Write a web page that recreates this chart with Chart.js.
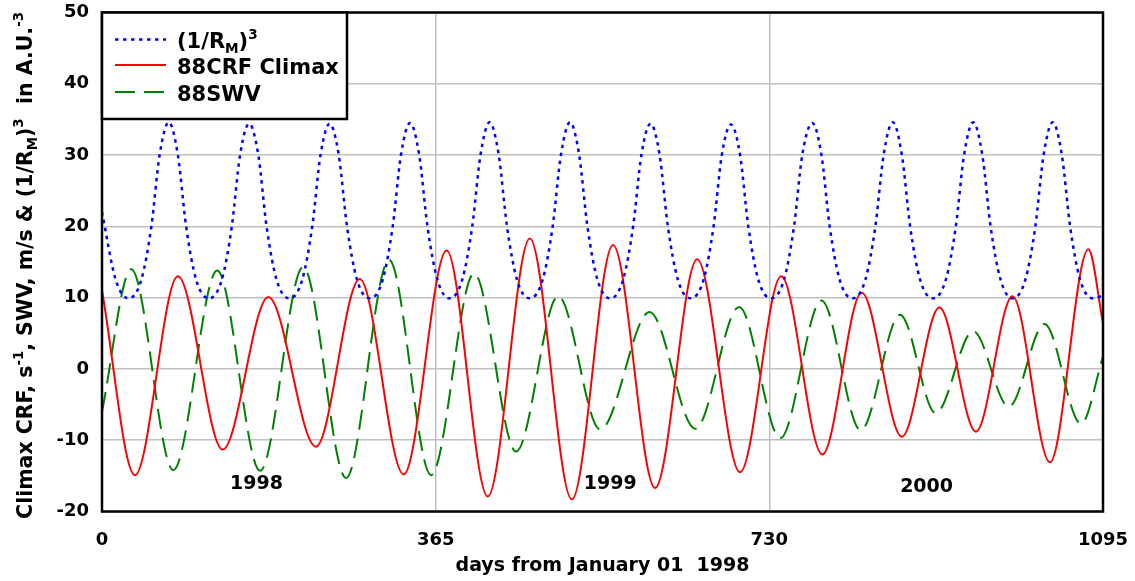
<!DOCTYPE html>
<html>
<head>
<meta charset="utf-8">
<script src="https://cdn.jsdelivr.net/npm/chart.js@4.4.1/dist/chart.umd.min.js"></script>
<style>
  html, body { margin: 0; padding: 0; background: #fff; }
</style>
</head>
<body>
<canvas id="chart" width="1135" height="581"></canvas>
<script>
// values (days from 1998-01-01)
const blueDays = [0,15,29,
  43,54,63,73,83,92,103,117,
  131,142,151,161,171,180,191,205,
  219,230,239,249,259,268,279,293,
  307,318,327,337,347,356,367,380,
  394,405,414,424,434,443,454,468,
  482,493,502,512,522,531,542,556,
  570,581,590,600,610,619,630,644,
  658,669,678,688,698,707,718,732,
  746,757,766,777,787,796,807,821,
  835,846,855,865,875,884,895,909,
  923,934,943,953,963,972,983,996,
  1010,1021,1030,1040,1050,1059,1070,1084,
  1095];
const blueVals = [22,12.5,9.9,
  12.5,20,30,34.6,30,20,12.5,9.9,
  12.5,20,30,34.4,30,20,12.5,9.9,
  12.5,20,30,34.4,30,20,12.5,9.9,
  12.5,20,30,34.5,30,20,12.5,9.9,
  12.5,20,30,34.6,30,20,12.5,9.9,
  12.5,20,30,34.6,30,20,12.5,9.9,
  12.5,20,30,34.4,30,20,12.5,9.9,
  12.5,20,30,34.3,30,20,12.5,9.9,
  12.5,20,30,34.5,30,20,12.5,9.9,
  12.5,20,30,34.6,30,20,12.5,9.9,
  12.5,20,30,34.6,30,20,12.5,9.9,
  12.5,20,30,34.6,30,20,12.5,9.9,
  10.3];

const redDays = [0,36,83,132,182,234,282,330,377,422,468,514,559,605,651,698,743,788,831,875,916,956,996,1037,1079,1095];
const redVals = [11,-14.9,13.0,-11.3,10.1,-10.9,12.6,-14.8,16.6,-17.9,18.3,-18.3,17.4,-16.7,15.4,-14.5,13.0,-12.0,10.7,-9.5,8.6,-8.8,10.2,-13.1,16.8,6.4];

const greenDays = [0,32,78,126,173,220,267,314,360,407,453,499,545,599,649,697,742,787,830,873,912,953,992,1031,1071,1095];
const greenVals = [-6,14.0,-14.2,13.8,-14.3,14.3,-15.3,15.3,-14.9,13.4,-11.6,10.2,-8.5,8.0,-8.4,8.7,-9.7,9.6,-8.6,7.6,-6.2,5.3,-5.3,6.3,-7.7,1.7];

const xTickVals = [0, 365, 730, 1095];
const yearLabels = ['1998', '1999', '2000'];
const yearDays = [169, 556, 902];
const yearVals = [-16.2, -16.2, -16.6];

const FONT = '"DejaVu Sans", Arial, sans-serif';

// rich text pieces: [text, 'sup'|'sub'|undefined]
const legendParts = [
  [['(1/R'], ['M', 'sub'], [')'], ['3', 'sup']],
  [['88CRF Climax']],
  [['88SWV']]
];
const yTitleParts = [['Climax CRF, s'], ['-1', 'sup'], [', SWV, m/s & (1/R'], ['M', 'sub'], [')'], ['3', 'sup'], ['  in A.U.'], ['-3', 'sup']];

function pts(xs, ys){ return xs.map((x, i) => ({ x: x, y: ys[i] })); }

function richWidth(ctx, parts, size){
  let w = 0;
  parts.forEach(p => {
    ctx.font = 'bold ' + (p[1] ? size * 0.65 : size) + 'px ' + FONT;
    w += ctx.measureText(p[0]).width;
  });
  return w;
}
function drawRich(ctx, parts, x, y, size){
  parts.forEach(p => {
    const s = p[1] ? size * 0.65 : size;
    ctx.font = 'bold ' + s + 'px ' + FONT;
    const dy = p[1] === 'sup' ? -size * 0.42 : (p[1] === 'sub' ? size * 0.22 : 0);
    ctx.fillText(p[0], x, y + dy);
    x += ctx.measureText(p[0]).width;
  });
}

const decor = {
  id: 'decor',
  afterDatasetsDraw(chart){
    const ctx = chart.ctx, a = chart.chartArea;
    const xs = chart.scales.x, ys = chart.scales.y;
    ctx.save();
    ctx.fillStyle = '#000';
    ctx.font = 'bold 19px ' + FONT;
    ctx.textAlign = 'center';
    ctx.textBaseline = 'middle';
    yearLabels.forEach((t, i) => ctx.fillText(t, xs.getPixelForValue(yearDays[i]), ys.getPixelForValue(yearVals[i])));

    // frame
    ctx.lineWidth = 2.5;
    ctx.strokeStyle = '#000';
    ctx.strokeRect(a.left, a.top, a.right - a.left, a.bottom - a.top);

    // legend box
    const lx = a.left, ly = a.top, lw = 245, lh = 106.5;
    ctx.fillStyle = '#fff';
    ctx.fillRect(lx, ly, lw, lh);
    ctx.strokeRect(lx, ly, lw, lh);
    const rows = [39.5, 65, 92];
    chart.data.datasets.forEach((ds, i) => {
      ctx.save();
      ctx.strokeStyle = ds.borderColor;
      ctx.lineWidth = ds.borderWidth;
      ctx.setLineDash(ds.borderDash || []);
      ctx.beginPath();
      ctx.moveTo(115, rows[i]);
      ctx.lineTo(166, rows[i]);
      ctx.stroke();
      ctx.restore();
      ctx.fillStyle = '#000';
      ctx.textAlign = 'left';
      ctx.textBaseline = 'alphabetic';
      drawRich(ctx, legendParts[i], 177, rows[i] + 8.5, 21);
    });

    // y axis title
    ctx.translate(32, 265.5);
    ctx.rotate(-Math.PI / 2);
    ctx.fillStyle = '#000';
    ctx.textAlign = 'left';
    ctx.textBaseline = 'alphabetic';
    const w = richWidth(ctx, yTitleParts, 20.5);
    drawRich(ctx, yTitleParts, -w / 2, 0, 20.5);
    ctx.restore();
  }
};

new Chart(document.getElementById('chart'), {
  type: 'line',
  data: {
    datasets: [
      { label: '(1/RM)3', data: pts(blueDays, blueVals), borderColor: '#0000ff', borderWidth: 2.5, borderDash: [3.5, 4.5], pointRadius: 0, cubicInterpolationMode: 'monotone' },
      { label: '88CRF Climax', data: pts(redDays, redVals), borderColor: '#ff0000', borderWidth: 2, pointRadius: 0, cubicInterpolationMode: 'monotone' },
      { label: '88SWV', data: pts(greenDays, greenVals), borderColor: '#008000', borderWidth: 2, borderDash: [20, 9], pointRadius: 0, cubicInterpolationMode: 'monotone' }
    ]
  },
  options: {
    responsive: false,
    animation: false,
    layout: { padding: { top: 12.5, right: 32, left: 0, bottom: 0 } },
    plugins: { legend: { display: false }, tooltip: { enabled: false } },
    scales: {
      x: {
        type: 'linear', min: 0, max: 1095,
        afterBuildTicks: s => { s.ticks = xTickVals.map(v => ({ value: v })); },
        afterFit: s => { s.height = 69.5; s.paddingLeft = 0; s.paddingRight = 0; },
        grid: { color: '#c0c0c0', lineWidth: 1.5, drawTicks: false },
        border: { display: false },
        ticks: { color: '#000', font: { family: FONT, size: 18, weight: 'bold' }, padding: 18, maxRotation: 0, callback: v => String(v) },
        title: { display: true, text: 'days from January 01  1998', color: '#000', font: { family: FONT, size: 19, weight: 'bold' }, padding: { top: 0, bottom: 4 } }
      },
      y: {
        min: -20, max: 50,
        afterFit: s => { s.width = 102; s.paddingTop = 0; s.paddingBottom = 0; },
        grid: { color: '#c0c0c0', lineWidth: 1.5, drawTicks: false },
        border: { display: false },
        ticks: { stepSize: 10, color: '#000', font: { family: FONT, size: 18, weight: 'bold' }, padding: 13 }
      }
    }
  },
  plugins: [decor]
});
</script>
</body>
</html>
